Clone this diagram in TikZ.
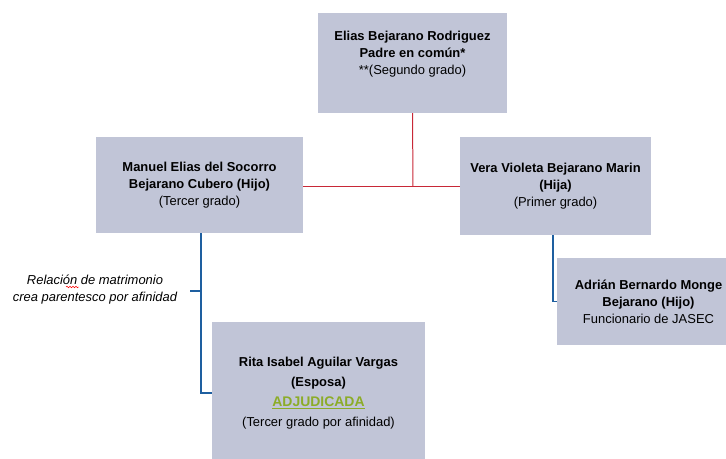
\documentclass[tikz,border=0pt]{standalone}
\usepackage{fontspec}
\setmainfont{Liberation Sans}
\usetikzlibrary{decorations.pathmorphing}
\definecolor{boxfill}{RGB}{193,197,215}
\definecolor{redline}{RGB}{200,40,55}
\definecolor{blueline}{RGB}{30,95,160}
\definecolor{adjgreen}{RGB}{140,172,40}
\tikzset{
  person/.style={fill=boxfill, draw=none, align=center, inner sep=0pt,
    font=\fontsize{13}{17}\selectfont\bfseries},
  redlink/.style={draw=redline, line width=1pt},
  bluelink/.style={draw=blueline, line width=1.1pt},
  note/.style={align=center, font=\fontsize{13}{17}\selectfont\itshape}
}
\begin{document}
\begin{tikzpicture}[x=1bp,y=-1bp]
\useasboundingbox (0,0) rectangle (726,459);
\clip (0,0) rectangle (726,459);
\node[person, minimum width=189bp, minimum height=100bp] (top) at (412.5,63)
  {Elias Bejarano Rodriguez\\Padre en común*\\\mdseries **(Segundo grado)\\[3bp]};
\node[person, minimum width=207bp, minimum height=96bp] (manuel) at (199.5,185)
  {Manuel Elias del Socorro\\Bejarano Cubero (Hijo)\\\mdseries (Tercer grado)};
\node[person, minimum width=191bp, minimum height=98bp] (vera) at (555.5,186)
  {Vera Violeta Bejarano Marin\\(Hija)\\\mdseries (Primer grado)};
\node[person, minimum width=183bp, minimum height=87bp] (adrian) at (648.5,301.5)
  {Adrián Bernardo Monge\\Bejarano (Hijo)\\\mdseries Funcionario de JASEC};
\node[person, minimum width=213bp, minimum height=142bp,
  font=\fontsize{13}{20}\selectfont\bfseries] (rita) at (318.5,393)
  {Rita Isabel Aguilar Vargas\\(Esposa)\\
   \textcolor{adjgreen}{\fontsize{14}{20}\selectfont\underline{ADJUDICADA}}\\
   \mdseries (Tercer grado por afinidad)};
\node[note] (rel) at (95,290)
  {Relación de matrimonio\\crea parentesco por afinidad};
% red connectors
\coordinate (j) at (413,187);
\draw[redlink] (top.south) -- (j);
\draw[redlink] (manuel.east |- j) -- (vera.west |- j);
% blue connectors
\draw[bluelink] ([xshift=1.5bp]manuel.south) |- (rita.west);
\coordinate (tick) at (190,291);
\draw[bluelink] (tick) -- ([xshift=1.5bp]tick -| manuel.south);
\draw[bluelink] ([xshift=-2.5bp]vera.south) |- (adrian.west);
% spell-check squiggle
\coordinate (sq1) at (66,287);
\coordinate (sq2) at (79,287);
\draw[red, line width=0.5pt, decorate, decoration={snake, amplitude=0.8bp, segment length=3bp}] (sq1) -- (sq2);
\end{tikzpicture}
\end{document}
